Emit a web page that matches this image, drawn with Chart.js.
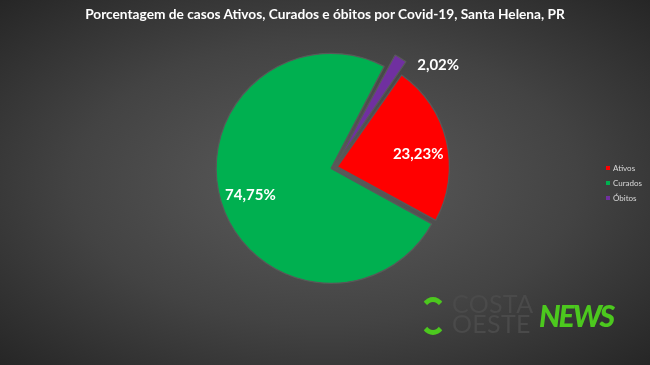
<!DOCTYPE html>
<html lang="pt-BR">
<head>
<meta charset="utf-8">
<script src="https://cdn.jsdelivr.net/npm/chart.js@4"></script>
<style>
  html, body { margin: 0; padding: 0; }
  body { width: 650px; height: 365px; overflow: hidden; }
  #wrap {
    position: relative; width: 650px; height: 365px;
    background: radial-gradient(ellipse farthest-corner at 50% 50%, #5c5c5c 0%, #434343 55%, #262626 100%);
    font-family: Lato, 'DejaVu Sans', sans-serif;
  }
  #wrap canvas { position: absolute; left: 0; top: 0; }
  #title {
    position: absolute; left: 0; top: 5px; width: 650px; text-align: center;
    color: #fff; font-weight: bold; font-size: 13.7px;
  }
  #legend { position: absolute; left: 606px; top: 161px; }
  .lg-row { display: flex; align-items: center; height: 14.7px; color: #d9d9d9; font-size: 8px; }
  .lg-box { width: 4px; height: 4px; margin-right: 3px; }
  #logo { position: absolute; left: 418px; top: 294px; width: 210px; height: 45px; }
  #logo .ico {
    position: absolute; left: 1px; top: 3px; width: 18px; height: 28px; border-radius: 50%;
    border: 5px solid transparent; border-top-color: #4cc81e; border-bottom-color: #4cc81e;
  }
  #logo .co { position: absolute; left: 34px; top: 0px; color: #4a4a4a; font-size: 25px; line-height: 19.5px; letter-spacing: 0.3px; }
  #logo .nw { position: absolute; left: 121px; top: 6px; color: #4cc81e; font-size: 30px; font-weight: 900; font-style: italic; letter-spacing: -2px; line-height: 30px; }
</style>
</head>
<body>
<div id="wrap">
  <canvas id="pie" width="650" height="365"></canvas>
  <div id="title">Porcentagem de casos Ativos, Curados e óbitos por Covid-19, Santa Helena, PR</div>
  <div id="legend"></div>
  <div id="logo"><div class="ico"></div><div class="co">COSTA<br>OESTE</div><div class="nw">NEWS</div></div>
</div>
<script>
// categorias e valores (%)
const LABELS = ['Ativos', 'Curados', 'Óbitos'];
const VALUES = [23.23, 74.75, 2.02];
const COLORS = ['#ff0000', '#00b050', '#7030a0'];
// fatias destacadas (offset Chart.js = 4x o deslocamento real)
const OFFSETS = [14, 12, 34];
// posição dos rótulos: fração do raio e desvio angular (graus) a partir da bissetriz
const LABEL_R = [0.73, 0.76, 1.23];
const LABEL_DA = [4.4, -1.6, 15];

const fmt = (v) => v.toFixed(2).replace('.', ',') + '%';

// legenda
const legend = document.getElementById('legend');
LABELS.forEach((l, i) => {
  const row = document.createElement('div');
  row.className = 'lg-row';
  row.innerHTML = `<span class="lg-box" style="background:${COLORS[i]}"></span><span>${l}</span>`;
  legend.append(row);
});

const pctLabels = {
  id: 'pctLabels',
  afterDatasetsDraw(chart) {
    const { ctx } = chart;
    const meta = chart.getDatasetMeta(0);
    ctx.save();
    ctx.fillStyle = '#fff';
    ctx.font = 'bold 15px Lato, sans-serif';
    ctx.textAlign = 'center';
    ctx.textBaseline = 'middle';
    meta.data.forEach((arc, i) => {
      const { x, y, startAngle, endAngle, outerRadius } = arc.getProps(['x', 'y', 'startAngle', 'endAngle', 'outerRadius'], true);
      const mid = (startAngle + endAngle) / 2;
      const t = (arc.options.offset || 0) / 4;
      const cx = x + Math.cos(mid) * t, cy = y + Math.sin(mid) * t;
      const a = mid + LABEL_DA[i] * Math.PI / 180;
      const r = outerRadius * LABEL_R[i];
      ctx.fillText(fmt(VALUES[i]), cx + Math.cos(a) * r, cy + Math.sin(a) * r);
    });
    ctx.restore();
  },
};

new Chart(document.getElementById('pie'), {
  type: 'pie',
  data: {
    labels: LABELS,
    datasets: [{
      data: VALUES,
      backgroundColor: COLORS,
      borderColor: '#595959',
      borderWidth: 1.2,
      offset: OFFSETS,
    }],
  },
  options: {
    responsive: false,
    animation: false,
    rotation: 35,
    radius: 112,
    layout: { padding: { left: 18, right: 0, top: 0, bottom: 30 } },
    plugins: { legend: { display: false }, tooltip: { enabled: false } },
  },
  plugins: [pctLabels],
});
</script>
</body>
</html>
